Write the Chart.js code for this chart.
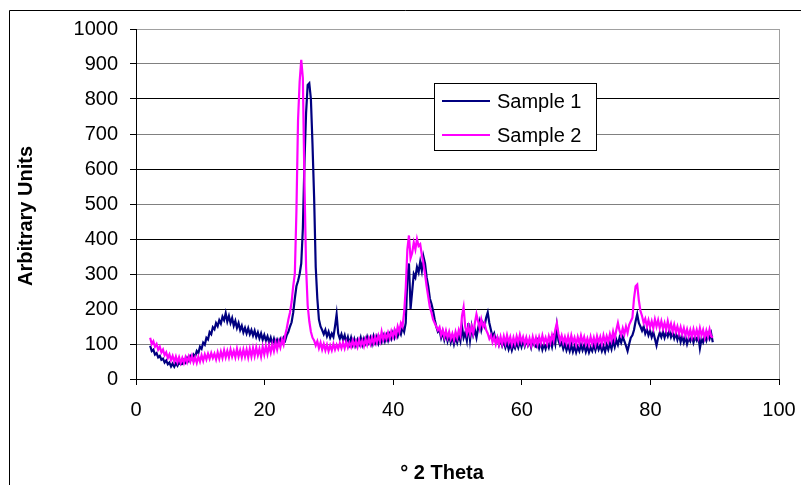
<!DOCTYPE html>
<html>
<head>
<meta charset="utf-8">
<title>XRD</title>
<script src="https://cdn.jsdelivr.net/npm/chart.js@4.4.0/dist/chart.umd.min.js"></script>
<style>
  html, body { margin: 0; padding: 0; background: #fff; }
  canvas { display: block; }
</style>
</head>
<body>
<canvas id="xrdChart" width="801" height="485"></canvas>
<script>
// diffraction scans, intensity every 0.25 degrees starting at 2.2 deg 2theta
var sample1 = [
  95, 80, 84, 70, 74, 62, 66, 55, 58, 47, 53, 42, 47, 36, 44, 35, 45, 38, 48, 42,
  43, 54, 47, 60, 52, 65, 57, 70, 64, 80, 74, 92, 86, 104, 98, 118, 113, 134, 128, 148,
  142, 160, 151, 168, 158, 178, 168, 188, 164, 180, 160, 174, 152, 166, 146, 160, 140, 152, 133, 146,
  130, 145, 128, 140, 124, 138, 120, 133, 116, 130, 112, 126, 110, 122, 104, 118, 100, 115, 98, 112,
  100, 114, 104, 118, 110, 126, 135, 150, 162, 190, 230, 265, 280, 300, 330, 430, 620, 760, 840, 845,
  800, 670, 520, 320, 230, 170, 150, 140, 128, 140, 122, 135, 118, 130, 120, 150, 185, 130, 115, 128,
  112, 125, 105, 120, 100, 118, 98, 114, 96, 112, 100, 118, 98, 115, 102, 120, 104, 118, 100, 122,
  104, 120, 102, 118, 106, 124, 108, 125, 110, 128, 115, 132, 118, 135, 122, 140, 128, 148, 135, 160,
  290, 330, 200, 250, 300, 290, 320, 305, 335, 310, 350, 330, 290, 265, 230, 215, 195, 170, 150, 135,
  140, 118, 135, 112, 130, 108, 126, 105, 122, 100, 120, 104, 125, 108, 150, 118, 132, 110, 160, 112,
  150, 125, 140, 118, 145, 165, 140, 160, 150, 175, 190, 160, 140, 120, 130, 108, 118, 98, 112, 95,
  108, 90, 104, 85, 100, 82, 98, 88, 104, 90, 108, 92, 110, 94, 112, 96, 108, 90, 112, 96,
  92, 108, 88, 104, 84, 100, 86, 104, 90, 110, 92, 118, 100, 150, 110, 96, 104, 86, 100, 82,
  96, 80, 98, 78, 94, 76, 92, 80, 98, 82, 96, 78, 94, 76, 90, 80, 98, 82, 100, 84,
  96, 80, 94, 78, 98, 84, 102, 86, 110, 92, 112, 98, 118, 104, 120, 108, 95, 80, 100, 118,
  125, 140, 165, 185, 160, 150, 138, 150, 130, 142, 125, 138, 120, 134, 115, 96, 118, 132, 120, 135,
  118, 134, 122, 138, 120, 132, 116, 130, 112, 128, 106, 122, 104, 120, 100, 116, 108, 124, 104, 120,
  110, 125, 88, 115, 105, 122, 110, 128, 115, 130, 105
];

var sample2 = [
  118, 100, 108, 92, 100, 84, 92, 76, 84, 68, 76, 60, 70, 54, 66, 50, 64, 48, 62, 46,
  60, 46, 62, 48, 64, 50, 66, 48, 62, 46, 64, 50, 68, 52, 70, 56, 72, 58, 74, 60,
  72, 56, 76, 58, 78, 60, 82, 62, 80, 62, 84, 64, 80, 62, 86, 64, 82, 62, 84, 64,
  84, 62, 86, 64, 88, 66, 90, 68, 86, 64, 92, 70, 94, 72, 96, 76, 100, 80, 104, 84,
  106, 90, 112, 98, 125, 145, 170, 190, 220, 265, 300, 480, 740, 850, 912, 860, 560, 320, 210, 165,
  135, 118, 110, 96, 108, 88, 104, 84, 100, 82, 98, 80, 96, 82, 100, 84, 98, 86, 102, 88,
  104, 88, 106, 90, 104, 92, 110, 94, 108, 92, 112, 96, 110, 94, 114, 98, 116, 100, 118, 102,
  120, 104, 124, 108, 135, 112, 128, 114, 132, 116, 136, 120, 140, 124, 150, 135, 160, 150, 190, 260,
  370, 410, 345, 360, 390, 370, 400, 380, 385, 355, 330, 300, 265, 235, 205, 190, 170, 160, 150, 140,
  148, 125, 140, 120, 138, 118, 135, 115, 130, 112, 135, 118, 140, 125, 180, 205, 150, 130, 150, 128,
  150, 130, 160, 185, 165, 145, 170, 150, 160, 140, 130, 115, 125, 105, 120, 100, 118, 98, 120, 100,
  122, 102, 125, 104, 120, 98, 118, 100, 122, 104, 126, 106, 120, 100, 118, 98, 116, 96, 120, 100,
  118, 98, 120, 102, 124, 104, 118, 100, 122, 104, 126, 110, 140, 160, 130, 108, 124, 104, 120, 102,
  122, 100, 124, 104, 118, 98, 120, 102, 124, 104, 120, 100, 116, 98, 120, 100, 118, 98, 122, 104,
  120, 100, 124, 104, 122, 106, 128, 110, 135, 115, 140, 160, 138, 125, 145, 128, 150, 132, 155, 165,
  175, 230, 265, 270, 225, 195, 180, 160, 172, 150, 168, 148, 165, 145, 170, 150, 168, 146, 165, 144,
  160, 140, 165, 142, 158, 136, 155, 134, 150, 130, 148, 128, 145, 124, 142, 122, 140, 120, 142, 122,
  140, 120, 145, 124, 140, 118, 138, 120, 142, 122, 118
];

var seriesLabels = ['Sample 1', 'Sample 2'];
var seriesColors = ['#000080', '#FF00FF'];
var xTicks = [0, 20, 40, 60, 80, 100];
var yTicks = [0, 100, 200, 300, 400, 500, 600, 700, 800, 900, 1000];
var xTitle = '\u00B0 2 Theta';
var yTitle = 'Arbitrary Units';

// scan positions
var theta = [];
for (var i = 0; i < sample1.length; i++) {
    theta.push(Math.round((2.2 + i * 0.25) * 100) / 100);
}

function points(values) {
    return values.map(function (v, i) { return { x: theta[i], y: v }; });
}

var FONT = '"Liberation Sans", Arial, sans-serif';

// outer frame, axis titles and the boxed legend
var chartDecor = {
    id: 'chartDecor',
    beforeDraw: function (chart) {
        var ctx = chart.ctx;
        ctx.save();
        ctx.fillStyle = '#fff';
        ctx.fillRect(0, 0, chart.width, chart.height);
        ctx.strokeStyle = '#000';
        ctx.lineWidth = 1;
        ctx.beginPath();
        ctx.moveTo(9.5, chart.height);
        ctx.lineTo(9.5, 10.5);
        ctx.lineTo(chart.width, 10.5);
        ctx.stroke();
        ctx.restore();
    },
    afterDraw: function (chart) {
        var ctx = chart.ctx;
        ctx.save();
        ctx.fillStyle = '#000';
        ctx.font = 'bold 20px ' + FONT;
        ctx.textAlign = 'center';
        ctx.textBaseline = 'alphabetic';
        ctx.fillText(xTitle, 442, 479);
        ctx.translate(32, 216);
        ctx.rotate(-Math.PI / 2);
        ctx.fillText(yTitle, 0, 0);
        ctx.restore();

        ctx.save();
        ctx.fillStyle = '#fff';
        ctx.fillRect(434.5, 83.5, 162, 67);
        ctx.strokeStyle = '#000';
        ctx.lineWidth = 1;
        ctx.strokeRect(434.5, 83.5, 162, 67);
        ctx.font = '20px ' + FONT;
        ctx.textAlign = 'left';
        ctx.textBaseline = 'middle';
        chart.data.datasets.forEach(function (ds, k) {
            var y = 101 + k * 34;
            ctx.strokeStyle = ds.borderColor;
            ctx.lineWidth = 2;
            ctx.beginPath();
            ctx.moveTo(442, y);
            ctx.lineTo(490, y);
            ctx.stroke();
            ctx.fillStyle = '#000';
            ctx.fillText(ds.label, 497, y + 1);
        });
        ctx.restore();
    }
};

Chart.defaults.font.family = FONT;
Chart.defaults.font.size = 20;
Chart.defaults.color = '#000';

new Chart(document.getElementById('xrdChart'), {
    type: 'line',
    data: {
        datasets: [
            {
                label: seriesLabels[0],
                data: points(sample1),
                borderColor: seriesColors[0],
                backgroundColor: seriesColors[0],
                borderWidth: 2.2,
                pointRadius: 0,
                tension: 0,
                fill: false,
                order: 1
            },
            {
                label: seriesLabels[1],
                data: points(sample2),
                borderColor: seriesColors[1],
                backgroundColor: seriesColors[1],
                borderWidth: 2.2,
                pointRadius: 0,
                tension: 0,
                fill: false,
                order: 0
            }
        ]
    },
    options: {
        responsive: false,
        animation: false,
        devicePixelRatio: 1,
        layout: { padding: { left: 10, top: 29, right: 22, bottom: 0 } },
        plugins: {
            legend: { display: false },
            tooltip: { enabled: false }
        },
        scales: {
            x: {
                type: 'linear',
                min: xTicks[0],
                max: xTicks[xTicks.length - 1],
                afterFit: function (scale) {
                    scale.height = 106;
                    scale.paddingLeft = 0;
                    scale.paddingRight = 0;
                },
                afterBuildTicks: function (scale) {
                    scale.ticks = xTicks.map(function (v) { return { value: v }; });
                },
                border: { color: '#000', width: 1 },
                grid: {
                    color: function (c) { return c.tick && c.tick.value === 100 ? '#a0a0a0' : 'rgba(0,0,0,0)'; },
                    tickColor: '#000',
                    tickLength: 6
                },
                ticks: {
                    padding: 13,
                    maxRotation: 0,
                    callback: function (v) { return String(v); }
                }
            },
            y: {
                min: yTicks[0],
                max: yTicks[yTicks.length - 1],
                afterFit: function (scale) {
                    scale.width = 126;
                    scale.paddingTop = 0;
                    scale.paddingBottom = 0;
                },
                afterBuildTicks: function (scale) {
                    scale.ticks = yTicks.map(function (v) { return { value: v }; });
                },
                border: { color: '#000', width: 1 },
                grid: {
                    color: function (c) {
                        var v = c.tick ? c.tick.value : 0;
                        if (v === 1000) return '#a0a0a0';
                        return (v / 100) % 2 ? '#808080' : '#000';
                    },
                    tickColor: '#000',
                    tickLength: 6
                },
                ticks: {
                    padding: 12,
                    callback: function (v) { return String(v); }
                }
            }
        }
    },
    plugins: [chartDecor]
});
</script>
</body>
</html>
